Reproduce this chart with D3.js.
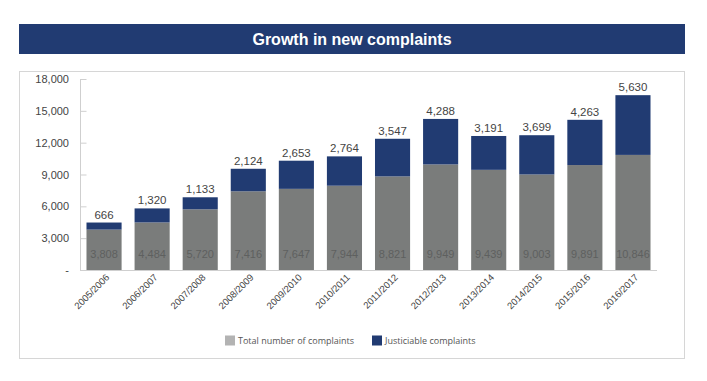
<!DOCTYPE html>
<html>
<head>
<meta charset="utf-8">
<script src="https://cdn.jsdelivr.net/npm/d3@7"></script>
<style>
  html, body { margin: 0; padding: 0; background: #fff; }
</style>
</head>
<body>
<svg id="chart" width="707" height="381"></svg>
<script>
const categories = ["2005/2006","2006/2007","2007/2008","2008/2009","2009/2010","2010/2011","2011/2012","2012/2013","2013/2014","2014/2015","2015/2016","2016/2017"];
const totalComplaints = [3808,4484,5720,7416,7647,7944,8821,9949,9439,9003,9891,10846];
const justiciableComplaints = [666,1320,1133,2124,2653,2764,3547,4288,3191,3699,4263,5630];
const yTicks = [0,3000,6000,9000,12000,15000,18000];
const seriesNames = ["Total number of complaints","Justiciable complaints"];
const title = "Growth in new complaints";

const navy = "#213b72", gray = "#7a7c7b";
const svg = d3.select("#chart");

// title bar
svg.append("rect").attr("x",19).attr("y",24).attr("width",666).attr("height",30).attr("fill",navy);
svg.append("text").attr("x",352).attr("y",45).attr("text-anchor","middle")
  .attr("font-family","Liberation Sans, Arial, sans-serif").attr("font-size",16).attr("font-weight","bold")
  .attr("fill","#fff").text(title);

// chart box
svg.append("rect").attr("x",19.5).attr("y",71.5).attr("width",665).attr("height",287)
  .attr("fill","none").attr("stroke","#d6d6d6").attr("stroke-width",1);

const x = d3.scaleBand().domain(categories).range([80,657]).paddingInner(0.27).paddingOuter(0.135);
const y = d3.scaleLinear().domain([0,18000]).range([270,79]);

const data = categories.map((c,i)=>({c, t: totalComplaints[i], j: justiciableComplaints[i]}));
const stack = d3.stack().keys(["t","j"])(data);
const colors = [gray, navy];

// y axis
const yAxis = d3.axisRight(y).tickValues(yTicks).tickSize(6).tickFormat("");
const gy = svg.append("g").attr("transform","translate(80.5,0)").call(yAxis);
gy.selectAll("path,line").attr("stroke","#cfcfcf");
gy.select(".domain").attr("d","M0,79V270");
svg.append("g").selectAll("text").data(yTicks).join("text")
  .attr("x",69).attr("y",d=>y(d)+4).attr("text-anchor","end")
  .attr("font-family","Liberation Sans, Arial, sans-serif").attr("font-size",11).attr("fill","#444")
  .text(d=> d===0 ? "-" : d3.format(",")(d));

// bars
svg.append("g").selectAll("g").data(stack).join("g").attr("fill",(d,i)=>colors[i])
  .selectAll("rect").data(d=>d).join("rect")
  .attr("x",d=>x(d.data.c)).attr("width",x.bandwidth())
  .attr("y",d=>y(d[1])).attr("height",d=>y(d[0])-y(d[1]));

// baseline
svg.append("line").attr("x1",80).attr("x2",657).attr("y1",270.5).attr("y2",270.5).attr("stroke","#cfcfcf");

// labels
svg.append("g").selectAll("text").data(data).join("text")
  .attr("x",d=>x(d.c)+x.bandwidth()/2).attr("y",d=>y(d.t+d.j)-4).attr("text-anchor","middle")
  .attr("font-family","Liberation Sans, Arial, sans-serif").attr("font-size",11.5).attr("fill","#444")
  .text(d=>d3.format(",")(d.j));
svg.append("g").selectAll("text").data(data).join("text")
  .attr("x",d=>x(d.c)+x.bandwidth()/2).attr("y",258).attr("text-anchor","middle")
  .attr("font-family","Liberation Sans, Arial, sans-serif").attr("font-size",11).attr("fill","#5e605f")
  .text(d=>d3.format(",")(d.t));

// x labels
svg.append("g").selectAll("text").data(categories).join("text")
  .attr("transform",d=>`translate(${x(d)+x.bandwidth()/2+6},278) rotate(-45)`)
  .attr("text-anchor","end")
  .attr("font-family","Liberation Sans, Arial, sans-serif").attr("font-size",9.5).attr("fill","#444")
  .text(d=>d);

// legend
const legend = svg.append("g").attr("font-family","Open Sans, sans-serif").attr("font-size",9).attr("fill","#555");
const legendX = [225, 372];
seriesNames.forEach((n,i)=>{
  legend.append("rect").attr("x",legendX[i]).attr("y",335.5).attr("width",10).attr("height",10)
    .attr("fill", i===0 ? "#b3b3b3" : navy);
  legend.append("text").attr("x",legendX[i]+13).attr("y",344).text(n);
});
</script>
</body>
</html>
